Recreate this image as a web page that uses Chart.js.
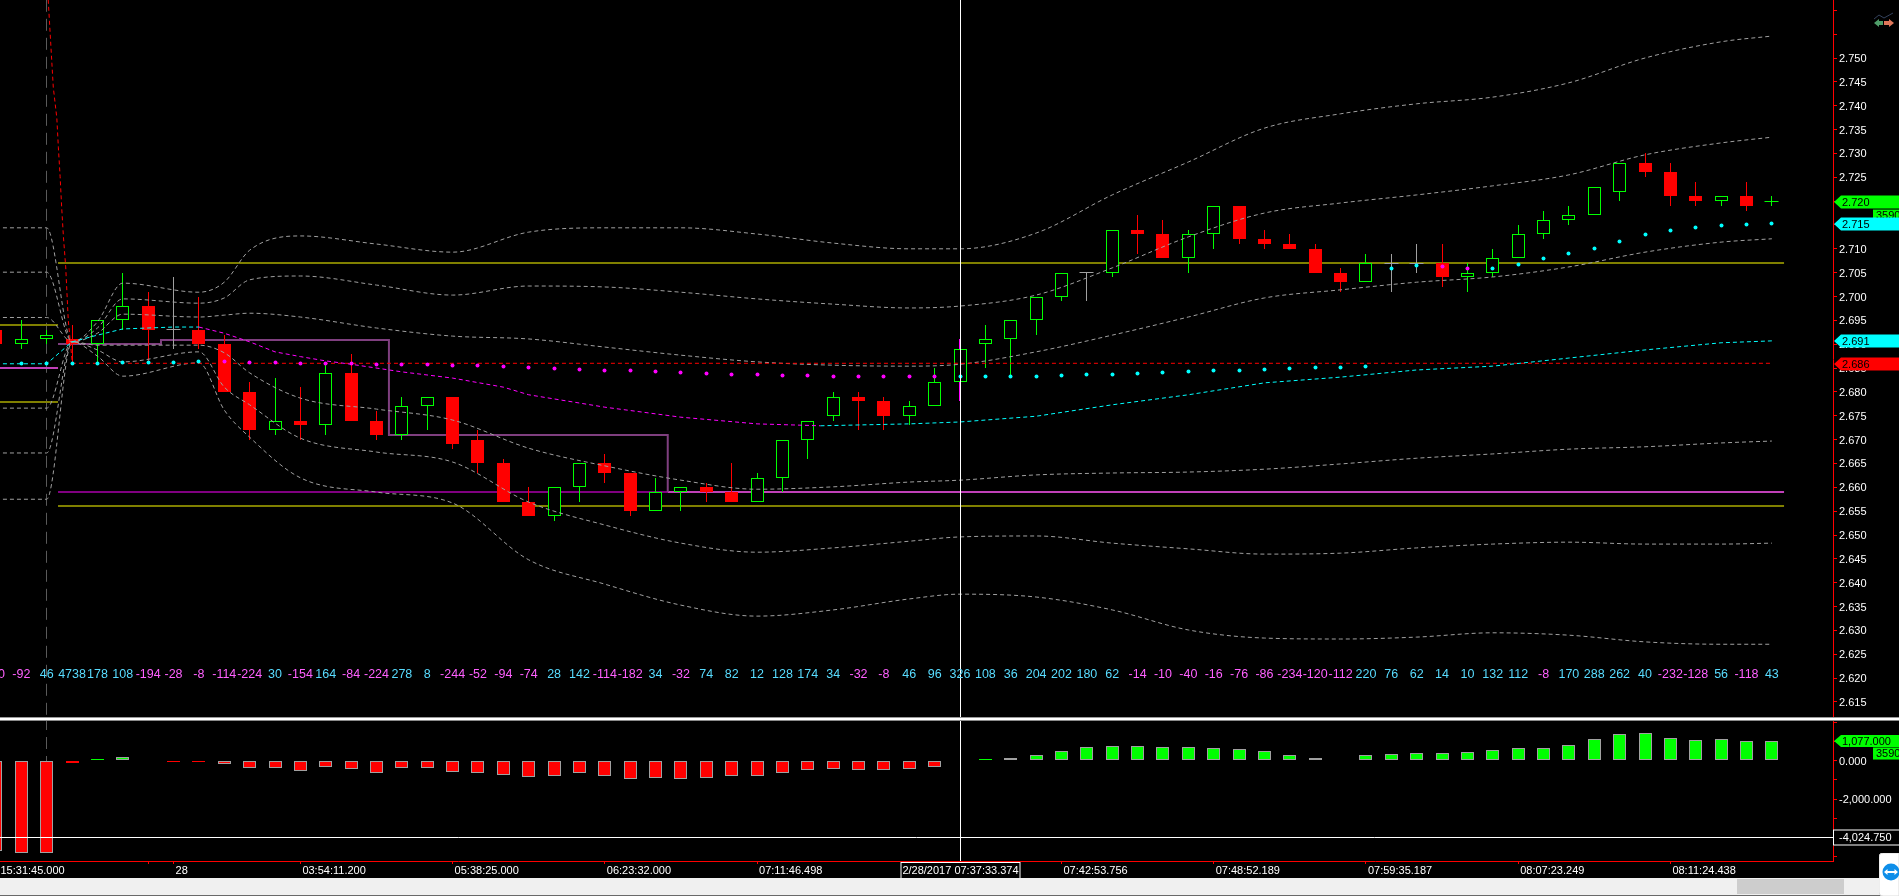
<!DOCTYPE html>
<html><head><meta charset="utf-8"><title>Chart</title>
<script src="https://cdn.jsdelivr.net/npm/chart.js@4"></script>
<style>
html,body{margin:0;padding:0;background:#000;width:1899px;height:896px;overflow:hidden}
canvas{position:absolute;left:0;top:0;display:block}
#scroll{position:absolute;left:0;top:878px;width:1899px;height:17px;background:#f0f0f0;border-bottom:1px solid #696969}
#thumb{position:absolute;left:1737px;top:1px;width:107px;height:15px;background:#cdcdcd}
svg{position:absolute}
</style></head><body>
<canvas id="c" width="1899" height="896"></canvas>
<div id="scroll"><div id="thumb"></div></div>
<svg style="left:1872px;top:12px" width="24" height="20" viewBox="0 0 24 20">
<polyline points="2,7 7,3 12,6 21,1" fill="none" stroke="#33415c" stroke-width="1"/>
<path d="M2,11 L7,7 L7,9 L11,9 L11,13 L7,13 L7,15 Z" fill="#4f9d69"/>
<path d="M22,11 L17,7 L17,9 L12,9 L12,13 L17,13 L17,15 Z" fill="#e0775a"/>
</svg>
<svg style="left:1879px;top:853px" width="20" height="43" viewBox="0 0 20 43">
<path d="M4,0 H20 V43 H4 Q0,43 0,39 V4 Q0,0 4,0 Z" fill="#fff" stroke="#ddd"/>
<circle cx="12" cy="19" r="8.5" fill="#0e8ee9"/>
<path d="M5,19 L8.5,16 V18 H15.5 V16 L19,19 L15.5,22 V20 H8.5 V22 Z" fill="#fff"/>
</svg>
<script>
// ---------- candles: index -1 .. 69 ----------
const candleIdx = [-1,0,1,2,3,4,5,6,7,8,9,10,11,12,13,14,15,16,17,18,19,20,21,22,23,24,25,26,27,28,29,30,31,32,33,34,35,36,37,38,39,40,41,42,43,44,45,46,47,48,49,50,51,52,53,54,55,56,57,58,59,60,61,62,63,64,65,66,67,68,69];
const opens = [2.693,2.690,2.691,2.691,2.690,2.695,2.698,2.693,2.693,2.690,2.680,2.672,2.674,2.673,2.684,2.674,2.671,2.677,2.679,2.670,2.665,2.657,2.654,2.660,2.665,2.663,2.655,2.659,2.660,2.659,2.657,2.662,2.670,2.675,2.679,2.678,2.675,2.677,2.682,2.690,2.691,2.695,2.700,2.705,2.705,2.714,2.713,2.708,2.713,2.719,2.712,2.711,2.710,2.705,2.703,2.707,2.707,2.707,2.704,2.705,2.708,2.713,2.716,2.717,2.722,2.728,2.726,2.721,2.720,2.721,2.720];
const highs = [2.693,2.695,2.693,2.694,2.695,2.705,2.701,2.704,2.700,2.692,2.682,2.683,2.681,2.686,2.688,2.676,2.679,2.679,2.679,2.672,2.666,2.660,2.660,2.665,2.667,2.663,2.662,2.660,2.661,2.665,2.663,2.670,2.674,2.680,2.680,2.679,2.678,2.685,2.691,2.694,2.695,2.700,2.705,2.705,2.714,2.717,2.716,2.714,2.719,2.719,2.714,2.713,2.711,2.706,2.709,2.709,2.711,2.711,2.707,2.710,2.715,2.718,2.719,2.723,2.728,2.730,2.728,2.724,2.721,2.724,2.721];
const lows = [2.690,2.689,2.690,2.686,2.686,2.693,2.686,2.689,2.689,2.680,2.670,2.671,2.670,2.671,2.674,2.670,2.670,2.672,2.668,2.663,2.657,2.654,2.653,2.657,2.661,2.654,2.655,2.655,2.657,2.657,2.657,2.659,2.666,2.674,2.672,2.672,2.673,2.677,2.678,2.685,2.683,2.692,2.699,2.699,2.704,2.709,2.708,2.705,2.710,2.711,2.710,2.710,2.705,2.701,2.703,2.701,2.705,2.702,2.701,2.704,2.708,2.712,2.715,2.717,2.720,2.725,2.719,2.719,2.719,2.718,2.719];
const closes = [2.690,2.691,2.692,2.690,2.695,2.698,2.693,2.693,2.690,2.680,2.672,2.674,2.673,2.684,2.674,2.671,2.677,2.679,2.669,2.665,2.657,2.654,2.660,2.665,2.663,2.655,2.659,2.660,2.659,2.657,2.662,2.670,2.674,2.679,2.678,2.675,2.677,2.682,2.689,2.691,2.695,2.700,2.705,2.705,2.714,2.713,2.708,2.713,2.719,2.712,2.711,2.710,2.705,2.703,2.707,2.707,2.707,2.704,2.705,2.708,2.713,2.716,2.717,2.723,2.728,2.726,2.721,2.720,2.721,2.719,2.720];
const deltaLabels = [-30,-92,46,4738,178,108,-194,-28,-8,-114,-224,30,-154,164,-84,-224,278,8,-244,-52,-94,-74,28,142,-114,-182,34,-32,74,82,12,128,174,34,-32,-8,46,96,326,108,36,204,202,180,62,-14,-10,-40,-16,-76,-86,-234,-120,-112,220,76,62,14,10,132,112,-8,170,288,262,40,-232,-128,56,-118,43];
const deltaRowPrice = 2.6207;

// ---------- bands ----------
const bandIdx = [-1,1,2,3,4,7,8,9,11,14,17,20,23,26,29,32,35,37,40,43,46,49,52,55,58,61,64,67,69];
const upper3 = [2.7144,2.7144,2.6905,2.6947,2.7028,2.7009,2.7030,2.7097,2.7127,2.7110,2.7093,2.7135,2.7144,2.7144,2.7131,2.7112,2.7100,2.7100,2.7133,2.7213,2.7282,2.7353,2.7383,2.7404,2.7418,2.7448,2.7500,2.7534,2.7546];
const upper2 = [2.7051,2.7051,2.6905,2.6934,2.6995,2.6986,2.6997,2.7035,2.7043,2.7024,2.7003,2.7022,2.7020,2.7009,2.6995,2.6984,2.6976,2.6980,2.7003,2.7060,2.7125,2.7175,2.7196,2.7213,2.7232,2.7255,2.7297,2.7322,2.7334];
const upper1 = [2.6956,2.6956,2.6905,2.6923,2.6963,2.6957,2.6961,2.6965,2.6957,2.6934,2.6917,2.6911,2.6894,2.6877,2.6863,2.6856,2.6854,2.6858,2.6884,2.6919,2.6957,2.6997,2.7014,2.7030,2.7041,2.7062,2.7093,2.7114,2.7121];
const lower1 = [2.6766,2.6766,2.6905,2.6898,2.6898,2.6898,2.6882,2.6840,2.6787,2.6764,2.6741,2.6682,2.6645,2.6615,2.6596,2.6601,2.6611,2.6615,2.6626,2.6630,2.6632,2.6638,2.6649,2.6661,2.6670,2.6680,2.6685,2.6693,2.6697];
const lower2 = [2.6672,2.6672,2.6905,2.6888,2.6863,2.6884,2.6810,2.6773,2.6703,2.6674,2.6653,2.6569,2.6521,2.6483,2.6464,2.6473,2.6487,2.6496,2.6498,2.6483,2.6471,2.6460,2.6462,2.6473,2.6481,2.6485,2.6481,2.6481,2.6483];
const lower3 = [2.6575,2.6575,2.6905,2.6875,2.6833,2.6861,2.6762,2.6705,2.6620,2.6590,2.6567,2.6448,2.6397,2.6353,2.6330,2.6343,2.6366,2.6376,2.6370,2.6343,2.6301,2.6284,2.6282,2.6286,2.6295,2.6290,2.6276,2.6271,2.6271];
const midIdx = [-1,1,2,3,4,6,7,8,9,10,11,12,13,15,17,19,20,23,26,29,31.5,35,37,40,43,46,49,52,55,58,61,64,67,69];
const midLine = [2.6859,2.6859,2.6905,2.6919,2.6932,2.6936,2.6936,2.6923,2.6905,2.6884,2.6874,2.6865,2.6858,2.6842,2.6829,2.6810,2.6794,2.6768,2.6747,2.6733,2.6729,2.6733,2.6737,2.6749,2.6773,2.6794,2.6819,2.6831,2.6846,2.6854,2.6871,2.6888,2.6903,2.6907];
const midBelowFrom = 7, midBelowTo = 31.5;

// ---------- dotted stop row: index 0 .. 69 ----------
const dots = [2.6860,2.6860,2.6860,2.6860,2.6862,2.6862,2.6862,2.6864,2.6864,2.6862,2.6862,2.6860,2.6860,2.6860,2.6857,2.6857,2.6857,2.6855,2.6855,2.6854,2.6852,2.6849,2.6847,2.6845,2.6845,2.6843,2.6841,2.6839,2.6837,2.6837,2.6835,2.6835,2.6833,2.6833,2.6833,2.6833,2.6833,2.6833,2.6833,2.6833,2.6833,2.6835,2.6837,2.6837,2.6839,2.6841,2.6843,2.6845,2.6845,2.6847,2.6849,2.6852,2.6852,2.6854,2.7059,2.7065,2.7063,2.7059,2.7059,2.7067,2.7080,2.7091,2.7101,2.7116,2.7130,2.7139,2.7145,2.7149,2.7151,2.7153];
const magentaDotIdx = [8,9,10,11,12,13,14,15,16,17,18,19,20,21,22,23,24,25,26,27,28,29,30,31,32,33,34,35,36,56,57];

// ---------- levels ----------
const redIdx = [1.06,1.26,1.40,1.46,1.53,1.59,1.66,1.75,1.85,2.01,69];
const redLine = [2.7622,2.7439,2.7374,2.7313,2.7251,2.7188,2.7125,2.7062,2.6951,2.6860,2.6860];
const levelStart = 1.447, levelSwitch = 25.48, levelEnd = 69.48, viewMinIdx = -0.84, viewMaxIdx = 71.41;
const oliveHigh = 2.7071, oliveLow = 2.6561, purpleLevel = 2.6590;
const prevOliveHigh = 2.6940, prevOliveLow = 2.6779, prevPurple = 2.6850;
const stepIdx = [1.447,5.506,5.506,14.49,14.49,25.48,25.48];
const stepLine = [2.6900,2.6900,2.6908,2.6908,2.6709,2.6709,2.6590];
const dividerIdx = 1, cursorIdx = 37, crossValue = -4024.75;

// ---------- lower panel ----------
const histogram = [-4760,-4850,-4820,-105,105,210,null,-30,-30,-155,-365,-365,-510,-300,-400,-610,-350,-350,-560,-610,-715,-820,-770,-610,-770,-925,-875,-925,-875,-770,-770,-610,-455,-400,-455,-455,-400,-300,null,105,155,315,525,735,790,790,735,735,680,630,525,315,155,60,315,365,420,420,470,575,680,680,840,1155,1420,1470,1205,1100,1155,1050,1077];

// ---------- axes ----------
const priceTicks = [2.760,2.755,2.750,2.745,2.740,2.735,2.730,2.725,2.720,2.715,2.710,2.705,2.700,2.695,2.690,2.685,2.680,2.675,2.670,2.665,2.660,2.655,2.650,2.645,2.640,2.635,2.630,2.625,2.620,2.615];
const lowerTicks = [2000,1000,0,-1000,-2000,-3000,-4000,-5000];
const lowerTickLabels = {'0':'0.000','-2000':'-2,000.000','-4000':'-4,000.000'};
const timeTickIdx = [-0.9,5,6,11,17,23,29,41,47,53,59,65];
const timeTickLabels = ['15:31:45.000','','28','03:54:11.200','05:38:25.000','06:23:32.000','07:11:46.498','07:42:53.756','07:48:52.189','07:59:35.187','08:07:23.249','08:11:24.438'];
const cursorLabel = '2/28/2017 07:37:33.374';
const tagPrices = [2.7199,2.7153,2.6907,2.6859];
const tagTexts = ['2.720','2.715','2.691','2.686'];
const tagColors = ['#00ff00','#00ffff','#00ffff','#ff0000'];
const lowerTagValue = 1077, lowerTagText = '1,077.000', lowerCountText = '3590', crossText = '-4,024.750';

const GREEN='#00ff00',RED='#ff0000',GREY='#a0a0a0',FONT='"Liberation Sans"';
const lastI = candleIdx.length-1;
const bodyPts = candleIdx.map((x,i)=>({x,y:[opens[i],closes[i]]})).map((p,i)=>opens[i]===closes[i]?{x:p.x,y:null}:p);
const wickPts = candleIdx.map((x,i)=>({x,y:[lows[i],highs[i]]}));
const wickCols = candleIdx.map((x,i)=> x===cursorIdx?'#ff00ff':closes[i]>opens[i]?GREEN:closes[i]<opens[i]?RED:(i===lastI?GREEN:GREY));
const bodyFill = candleIdx.map((x,i)=> closes[i]>opens[i]?'#000':RED);
const bodyEdge = candleIdx.map((x,i)=> closes[i]>opens[i]?GREEN:RED);
const dojiPts = candleIdx.map((x,i)=>opens[i]===closes[i]?{x,y:opens[i]}:null).filter(Boolean);
const dojiCols = dojiPts.map(p=>p.x===candleIdx[lastI]?GREEN:GREY);
const pairs=(xs,ys)=>xs.map((x,i)=>({x,y:ys[i]}));
const flat=(a,b,v)=>[{x:a,y:v},{x:b,y:v}];
const vbarPts = candleIdx.map((x,i)=>({x,y:histogram[i]}));
const vbarFill = histogram.map(v=>v>0?GREEN:RED);
const vbarEdge = histogram.map(v=>Math.abs(v)>=150?GREY:(v>0?GREEN:RED));
const noPad = s=>{s.paddingTop=0;s.paddingBottom=0;s.paddingLeft=0;s.paddingRight=0;};

function band(data){return {type:'line',data:pairs(bandIdx,data),borderColor:GREY,borderWidth:1,borderDash:[4,3],pointRadius:0,cubicInterpolationMode:'monotone',yAxisID:'y',order:3};}
function level(data,color,w,order,axis){return {type:'line',data,borderColor:color,borderWidth:w,pointRadius:0,yAxisID:axis||'y',order:order,snapLine:true};}

const datasets = [
 Object.assign(level([{x:cursorIdx,y:2.7622},{x:cursorIdx,y:2.6116}],'#fff',1,0),{snapX:true,snapLine:false}),
 Object.assign(level([{x:cursorIdx,y:2263},{x:cursorIdx,y:-5263}],'#fff',1,0,'y2'),{snapX:true,snapLine:false}),
 Object.assign(level(flat(viewMinIdx,viewMaxIdx,crossValue),'#fff',1,0,'y2'),{snapHalf:true,snapLine:false}),
 {type:'line',data:pairs(candleIdx.slice(1),dots),showLine:false,pointStyle:'circle',pointRadius:2,pointBorderWidth:0,
  pointBackgroundColor:candleIdx.slice(1).map(x=>magentaDotIdx.includes(x)?'#ff00ff':'#00ffff'),yAxisID:'y',order:1,snapDots:true},
 {type:'line',data:pairs(midIdx,midLine),borderColor:'#00ffff',borderWidth:1,borderDash:[4,3],pointRadius:0,yAxisID:'y',order:2,
  segment:{borderColor:c=>(c.p0.parsed.x>=midBelowFrom&&c.p1.parsed.x<=midBelowTo)?'#ff00ff':'#00ffff'}},
 {type:'line',data:pairs(redIdx,redLine),borderColor:'#ff0000',borderWidth:1,borderDash:[4,3],pointRadius:0,yAxisID:'y',order:2},
 band(upper3),band(upper2),band(upper1),band(lower1),band(lower2),band(lower3),
 {type:'line',data:dojiPts,showLine:false,pointStyle:'line',pointRadius:7,pointBorderWidth:1,pointBorderColor:dojiCols,yAxisID:'y',order:4,snapDots:true},
 {type:'bar',data:bodyPts,grouped:false,barThickness:13,backgroundColor:bodyFill,borderColor:bodyEdge,borderWidth:1,borderSkipped:false,inflateAmount:0,yAxisID:'y',order:5,snapBar:true},
 {type:'bar',data:wickPts,grouped:false,barThickness:1,backgroundColor:wickCols,borderWidth:0,inflateAmount:0,yAxisID:'y',order:6,snapBar:true,isWick:true},
 level(flat(levelStart,levelEnd,oliveHigh),'#808000',2,7),
 level(flat(levelStart,levelEnd,oliveLow),'#808000',2,7),
 level(flat(levelStart,levelSwitch,purpleLevel),'#800080',2,8),
 level(flat(levelSwitch,levelEnd,purpleLevel),'#c040b8',2,7),
 level(pairs(stepIdx,stepLine),'#7f3f7f',2,6.5),
 level(flat(viewMinIdx,levelStart,prevOliveHigh),'#808000',2,7),
 level(flat(viewMinIdx,levelStart,prevOliveLow),'#808000',2,7),
 level(flat(viewMinIdx,levelStart,prevPurple),'#c040b8',2,7),
 {type:'bar',data:vbarPts,grouped:false,barThickness:13,backgroundColor:vbarFill,borderColor:vbarEdge,borderWidth:1,borderSkipped:false,inflateAmount:0,yAxisID:'y2',order:5,snapBar:true},
 Object.assign(level([{x:dividerIdx,y:2.7622},{x:dividerIdx,y:2.6116}],'#5a5a5a',1,9),{borderDash:[12,7],snapX:true,snapLine:false}),
 Object.assign(level([{x:dividerIdx,y:2263},{x:dividerIdx,y:-1000}],'#5a5a5a',1,9,'y2'),{borderDash:[12,7],snapX:true,snapLine:false})
];

const panelPlugin = {
 id:'panel',
 afterDatasetsUpdate(chart){
  chart.data.datasets.forEach((ds,di)=>{
   const meta=chart.getDatasetMeta(di);
   meta.data.forEach((el,i)=>{
    if(ds.snapBar){
      el.x=Math.floor(el.x)+0.5; el.y=Math.round(el.y); el.base=Math.round(el.base); el.height=el.base-el.y;
      if(ds.isWick&&candleIdx[i]===cursorIdx){el.width=2;el.x-=0.5;}
    }
    if(ds.snapDots){el.x=Math.floor(el.x)+0.5;el.y=Math.floor(el.y)+0.5;}
    if(ds.snapLine){el.y=Math.round(el.y);}
    if(ds.snapHalf){el.y=Math.floor(el.y)+0.5;}
    if(ds.snapX){el.x=Math.floor(el.x)+0.5;}
   });
  });
 },
 afterDatasetsDraw(chart){
  const ctx=chart.ctx,{x,y}=chart.scales,W=chart.width;
  ctx.save();
  ctx.font='12.5px '+FONT; ctx.textAlign='center'; ctx.textBaseline='middle';
  const rowY=y.getPixelForValue(deltaRowPrice);
  candleIdx.forEach((c,i)=>{ctx.fillStyle=deltaLabels[i]<0?'#ff60ff':'#58dcff';ctx.fillText(String(deltaLabels[i]),x.getPixelForValue(c),rowY);});
  ctx.fillStyle='#9a9a9a';ctx.fillRect(0,y.bottom-1,W,1);
  ctx.fillStyle='#ffffff';ctx.fillRect(0,y.bottom,W,2);
  ctx.fillStyle='#8a8a8a';ctx.fillRect(0,y.bottom+2,W,1);
  ctx.restore();
 },
 afterDraw(chart){
  const ctx=chart.ctx,{x,y,y2}=chart.scales;
  const L=x.right+1,R=chart.width;
  ctx.save();
  ctx.font='11px '+FONT; ctx.textBaseline='middle'; ctx.textAlign='left';
  function tag(yc,h,color,text){
    const yy=Math.round(yc);
    ctx.fillStyle=color;ctx.beginPath();ctx.moveTo(L,yy);ctx.lineTo(L+7,yy-h/2);ctx.lineTo(R,yy-h/2);ctx.lineTo(R,yy+h/2);ctx.lineTo(L+7,yy+h/2);ctx.closePath();ctx.fill();
    ctx.fillStyle='#000';ctx.fillText(text,L+8,yy+0.5);
  }
  const count=(yTop)=>{ctx.fillStyle=GREEN;ctx.fillRect(1873,yTop,26,12);ctx.fillStyle='#000';ctx.fillText(lowerCountText,1876,yTop+6.5);};
  count(y.getPixelForValue(tagPrices[0])+8);
  tagPrices.forEach((p,i)=>tag(y.getPixelForValue(p),13,tagColors[i],tagTexts[i]));
  tag(y2.getPixelForValue(lowerTagValue),12,GREEN,lowerTagText);
  count(y2.getPixelForValue(lowerTagValue)+7);
  const cy=Math.floor(y2.getPixelForValue(crossValue))+0.5;
  ctx.fillStyle='#000';ctx.fillRect(L-1,cy-7,R-L+1,15);
  ctx.strokeStyle='#fff';ctx.lineWidth=1;ctx.strokeRect(L-0.5,cy-7.5,R-L+2,15);
  ctx.fillStyle='#fff';ctx.fillText(crossText,L+5,cy+0.5);
  const cx=Math.floor(x.getPixelForValue(cursorIdx))+0.5;
  ctx.fillStyle='#000';ctx.fillRect(cx-60,x.top+1,119,16);
  ctx.strokeStyle='#fff';ctx.strokeRect(cx-59.5,x.top+1.5,119,16);
  ctx.fillStyle='#fff';ctx.textAlign='center';ctx.fillText(cursorLabel,cx,x.top+10);
  ctx.restore();
 }
};

Chart.defaults.font.family=FONT;
Chart.defaults.font.size=11;
new Chart(document.getElementById('c').getContext('2d'),{
 data:{datasets},
 plugins:[panelPlugin],
 options:{
  responsive:false,animation:false,devicePixelRatio:1,events:[],
  layout:{autoPadding:false,padding:{left:0,right:0,top:0,bottom:18}},
  plugins:{legend:{display:false},tooltip:{enabled:false},title:{display:false}},
  scales:{
   x:{type:'linear',offset:false,position:'bottom',min:viewMinIdx,max:viewMaxIdx,
      afterBuildTicks:s=>{s.ticks=timeTickIdx.map(value=>({value}));},
      afterFit:s=>{s.height=17;noPad(s);},
      border:{display:true,color:RED,width:1},
      grid:{display:true,offset:false,drawOnChartArea:false,drawTicks:true,tickLength:3,tickColor:RED},
      ticks:{autoSkip:false,maxRotation:0,align:'start',labelOffset:2,padding:0,color:'#fff',font:{size:11},
        callback:(v,i)=>timeTickLabels[i]}},
   y:{type:'linear',position:'right',stack:'panels',stackWeight:718,min:2.61164,max:2.76216,
      afterBuildTicks:s=>{s.ticks=priceTicks.map(value=>({value}));},
      afterFit:s=>{s.width=66;noPad(s);},
      border:{display:true,color:RED,width:1},
      grid:{display:true,drawOnChartArea:false,drawTicks:true,tickLength:4,tickColor:RED},
      ticks:{autoSkip:false,padding:2,labelOffset:1,color:'#fff',font:{size:11},
        callback:v=>v>2.7501?'':v.toFixed(3)}},
   y2:{type:'linear',position:'right',stack:'panels',stackWeight:143,min:-5263,max:2263,
      afterBuildTicks:s=>{s.ticks=lowerTicks.map(value=>({value}));},
      afterFit:s=>{s.width=66;noPad(s);},
      border:{display:true,color:RED,width:1},
      grid:{display:true,drawOnChartArea:false,drawTicks:true,tickLength:4,tickColor:RED},
      ticks:{autoSkip:false,padding:2,labelOffset:1,color:'#fff',font:{size:11},
        callback:v=>lowerTickLabels[String(v)]||''}}
  }
 }
});
</script>
</body></html>
